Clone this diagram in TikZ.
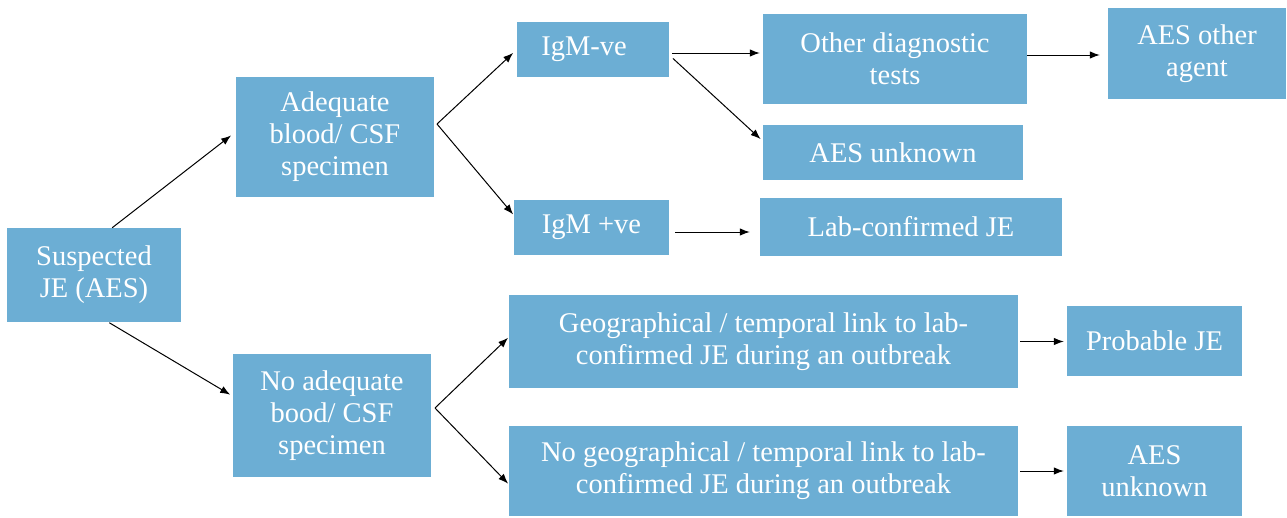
\documentclass[tikz,border=0pt]{standalone}
\usepackage{fontspec}
\newfontfamily\boxfont{Liberation Serif}
\usepackage{tikz}
\usetikzlibrary{arrows.meta}
\definecolor{boxblue}{RGB}{108,174,212}

\begin{document}
\begin{tikzpicture}[x=1pt, y=-1pt]
  \tikzstyle{every node} = [inner sep = 0,
			    align = center,
			    text = white,
			    font = \boxfont\fontsize{28.5}{32}\selectfont]
\tikzset{BoxStyle/.style={fill = boxblue, minimum width = #1}}
\tikzset{EdgeStyle/.style={-{Latex[length=10pt,width=7.5pt]}, line width = 1pt}}
\useasboundingbox (0,0) rectangle (1287,517);

\node[BoxStyle=174pt, minimum height=94pt]  (B0) at (94,275)     {Suspected\\JE (AES)};
\node[BoxStyle=198pt, minimum height=120pt] (B1) at (335,137)    {Adequate\\blood/ CSF\\specimen};
\node[BoxStyle=198pt, minimum height=123pt] (B2) at (332,415.5)  {No adequate\\bood/ CSF\\specimen};
\node[BoxStyle=152pt, minimum height=55pt]  (B3) at (593,49.5)   {IgM-ve\hspace*{18pt}};
\node[BoxStyle=155pt, minimum height=55pt]  (B4) at (591.5,227.5){IgM +ve};
\node[BoxStyle=264pt, minimum height=90pt]  (B5) at (895,59)     {Other diagnostic\\tests};
\node[BoxStyle=260pt, minimum height=55pt]  (B6) at (893,152.5)  {AES unknown};
\node[BoxStyle=302pt, minimum height=58pt]  (B7) at (911,227)    {Lab-confirmed JE};
\node[BoxStyle=178pt, minimum height=91pt]  (B8) at (1197,53.5)  {AES other\\agent};
\node[BoxStyle=509pt, minimum height=93pt]  (B9) at (763.5,341.5){Geographical / temporal link to lab-\\confirmed JE during an outbreak};
\node[BoxStyle=509pt, minimum height=90pt]  (B10) at (763.5,471) {No geographical / temporal link to lab-\\confirmed JE during an outbreak};
\node[BoxStyle=175pt, minimum height=70pt]  (B11) at (1154.5,341){Probable JE};
\node[BoxStyle=175pt, minimum height=90pt]  (B12) at (1154.5,471){AES\\unknown};

\coordinate (F1) at (437,124);
\coordinate (F2) at (435,408);

\draw[EdgeStyle, shorten >=6pt] (B0.69) -- (B1.177);
\draw[EdgeStyle, shorten <=1pt, shorten >=3pt] (B0.-73) -- (B2.169);
\draw[EdgeStyle, shorten >=5pt] (F1) -- (B3.west);
\draw[EdgeStyle, shorten >=1pt] (F1) -- (B4.171);
\draw[EdgeStyle, shorten >=1pt] (F2) -- (B9.179);
\draw[EdgeStyle, shorten >=1pt] (F2) -- (B10.183);
\draw[EdgeStyle, shorten <=3pt, shorten >=3pt] ([yshift=-3.5pt]B3.east) -- ([yshift=-3.5pt]B3.east -| B5.west);
\draw[EdgeStyle, shorten <=5pt, shorten >=3pt] ([yshift=-5.5pt]B3.east) -- (B6.175);
\draw[EdgeStyle, shorten <=6pt, shorten >=10pt] ([yshift=-4.5pt]B4.east) -- ([yshift=-4.5pt]B4.east -| B7.west);
\draw[EdgeStyle, shorten >=8pt] ([yshift=4pt]B5.east) -- ([yshift=4pt]B5.east -| B8.west);
\draw[EdgeStyle, shorten <=2pt, shorten >=3pt] (B9.east) -- (B9.east -| B11.west);
\draw[EdgeStyle, shorten <=2pt, shorten >=3pt] (B10.east) -- (B10.east -| B12.west);

\end{tikzpicture}
\end{document}
